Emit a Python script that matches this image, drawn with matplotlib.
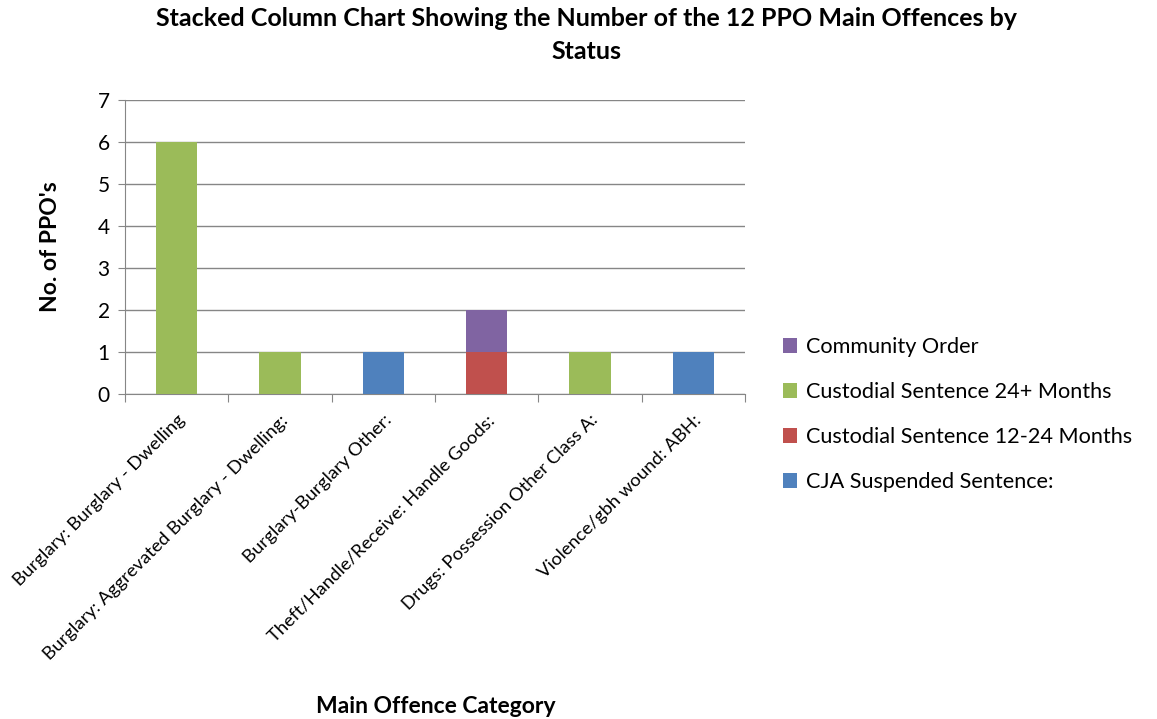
import matplotlib.pyplot as plt
import numpy as np

plt.rcParams['font.family'] = ['Lato', 'DejaVu Sans']

categories = ["Burglary: Burglary - Dwelling",
              "Burglary: Aggrevated Burglary - Dwelling:",
              "Burglary-Burglary Other:",
              "Theft/Handle/Receive: Handle Goods:",
              "Drugs: Possession Other Class A:",
              "Violence/gbh wound: ABH:"]

# stacked bottom to top
cja_suspended = [0, 0, 1, 0, 0, 1]
custodial_12_24 = [0, 0, 0, 1, 0, 0]
custodial_24_plus = [6, 1, 0, 0, 1, 0]
community_order = [0, 0, 0, 1, 0, 0]

series = [("CJA Suspended Sentence:", cja_suspended, "#4F81BD"),
          ("Custodial Sentence 12-24 Months", custodial_12_24, "#C0504D"),
          ("Custodial Sentence 24+ Months", custodial_24_plus, "#9BBB59"),
          ("Community Order", community_order, "#8064A2")]

fig = plt.figure(figsize=(11.57, 7.19), dpi=100)
ax = fig.add_axes([0.108, 0.452, 0.536, 0.409])

x = np.arange(len(categories))
bottom = np.zeros(len(categories))
handles = []
for name, vals, col in series:
    h = ax.bar(x, vals, 0.4, bottom=bottom, color=col, label=name, zorder=3)
    handles.append(h)
    bottom += np.array(vals)

ax.set_xlim(-0.5, len(categories) - 0.5)
ax.set_ylim(0, 7)
ax.set_yticks(range(0, 8))
ax.yaxis.grid(True, color="#868686", linewidth=1, zorder=0)
for s in ["top", "right"]:
    ax.spines[s].set_visible(False)
ax.spines["left"].set_color("#868686")
ax.spines["bottom"].set_color("#868686")
ax.tick_params(axis="y", length=5, color="#868686", labelsize=15, pad=6)

# category ticks sit between columns
ax.set_xticks(np.arange(-0.5, len(categories)), minor=False)
ax.set_xticklabels([])
ax.tick_params(axis="x", length=6, color="#868686")
ax.set_xticks(x, minor=True)
ax.set_xticklabels(categories, minor=True, rotation=45, ha="right",
                   rotation_mode="anchor", fontsize=13.3)
ax.tick_params(axis="x", which="minor", length=0, pad=13)

ax.set_ylabel("No. of PPO's", fontsize=16.5, fontweight="bold", labelpad=26)
fig.text(0.377, 0.008, "Main Offence Category", ha="center", fontsize=16.5,
         fontweight="bold")
fig.suptitle("Stacked Column Chart Showing the Number of the 12 PPO Main Offences by\nStatus",
             x=0.507, y=0.99, fontsize=18, fontweight="bold", linespacing=1.5)

fig.legend(handles[::-1], [s[0] for s in series][::-1], loc="upper left",
           bbox_to_anchor=(0.66, 0.558), frameon=False, fontsize=15.6,
           handlelength=0.65, handleheight=0.65, handletextpad=0.4,
           labelspacing=1.15)

fig.savefig("out.png", dpi=100)
